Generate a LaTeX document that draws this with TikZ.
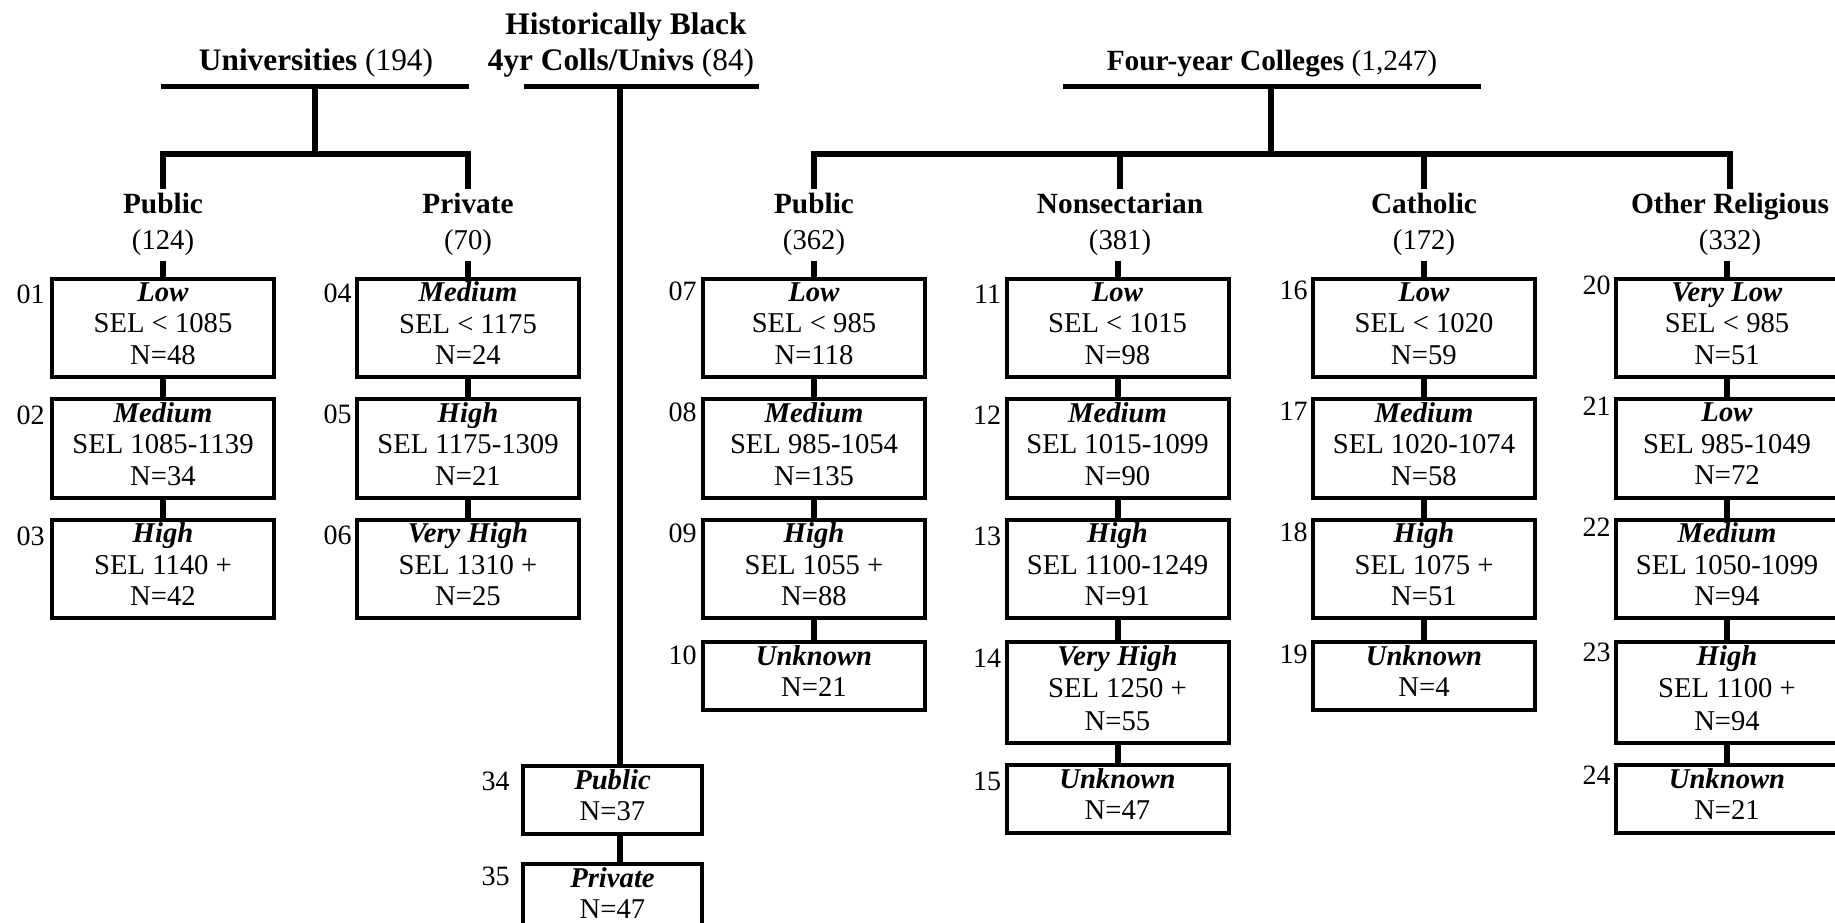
\documentclass[tikz,border=0pt]{standalone}
\usepackage{fontspec}
\setmainfont{Liberation Serif}

\newcommand{\seltxt}[3]{\textbf{\textit{#1}}\\#2\\#3\strut}
\newcommand{\unktxt}[2]{\textbf{\textit{#1}}\\#2\strut}

\tikzset{every picture/.style={line width=0.75pt}}
\tikzset{
  selbox/.style={draw, rectangle, line width=3pt, minimum width=166.5pt, minimum height=73.5pt,
    inner sep=0pt, align=center, anchor=north, font=\fontsize{21.5}{23.6}\selectfont},
  selboxtall/.style={selbox, minimum height=75.75pt, font=\fontsize{21.5}{24.4}\selectfont},
  unkbox/.style={selbox, minimum height=51pt},
  hbbox/.style={unkbox, minimum width=134.25pt},
  boxid/.style={anchor=base east, inner sep=0pt, font=\fontsize{21}{24}\selectfont},
  grouphd/.style={anchor=base, inner sep=3pt, font=\fontsize{22}{26}\selectfont\bfseries},
  groupn/.style={anchor=base, inner sep=3pt, font=\fontsize{21.5}{26}\selectfont},
  toptitle/.style={anchor=base, inner sep=0pt, font=\fontsize{23.5}{28}\selectfont},
  treeline/.style={line width=4.5pt},
  headbar/.style={line width=3.75pt},
}

\begin{document}
\begin{tikzpicture}[x=0.75pt,y=0.75pt,yscale=-1,xscale=1]
    %set diagram to 1835 x 923
    \useasboundingbox (0,0) rectangle (1835,923);
    \clip (0,0) rectangle (1835,923);

    % Titles
    \node [toptitle] (univ) at (316,71) {\textbf{Universities} (194)};
    \node [toptitle] (hbcuA) at (626,35) {\textbf{Historically Black}};
    \node [toptitle] (hbcuB) at (621,71) {\textbf{4yr Colls/Univs} (84)};
    \node [toptitle, font=\fontsize{22}{26}\selectfont] (four) at (1272,71) {\textbf{Four-year Colleges} (1,247)};

    % Bars and trunks
    \coordinate (univL) at (161,87);
    \coordinate (univR) at (469,87);
    \coordinate (hbcuL) at (524,87);
    \coordinate (hbcuR) at (759,87);
    \coordinate (fourL) at (1063,87);
    \coordinate (fourR) at (1481,87);
    \coordinate (univT) at (315,87);
    \coordinate (univJ) at (315,154);
    \coordinate (hbcuT) at (620,87);
    \coordinate (fourT) at (1271,87);
    \coordinate (fourJ) at (1271,154);

    % Group headings
    \node [grouphd] (uPub) at (163,214) {Public};
    \node [groupn] (uPubN) at (163,250) {(124)};
    \node [grouphd] (uPriv) at (468,214) {Private};
    \node [groupn] (uPrivN) at (468,250) {(70)};
    \node [grouphd] (fPub) at (814,214) {Public};
    \node [groupn] (fPubN) at (814,250) {(362)};
    \node [grouphd] (fNon) at (1120,214) {Nonsectarian};
    \node [groupn] (fNonN) at (1120,250) {(381)};
    \node [grouphd] (fCath) at (1424,214) {Catholic};
    \node [groupn] (fCathN) at (1424,250) {(172)};
    \node [grouphd] (fOther) at (1730,214) {Other Religious};
    \node [groupn] (fOtherN) at (1730,250) {(332)};

    % Universities, public
    \node [selbox] (b01) at (163,277) {\seltxt{Low}{SEL < 1085}{N=48}};
    \node [selbox] (b02) at (163,397.5) {\seltxt{Medium}{SEL 1085-1139}{N=34}};
    \node [selbox] (b03) at (163,518) {\seltxt{High}{SEL 1140 +}{N=42}};
    % Universities, private
    \node [selbox] (b04) at (468,277) {\seltxt{Medium}{SEL < 1175}{N=24}};
    \node [selbox] (b05) at (468,397.5) {\seltxt{High}{SEL 1175-1309}{N=21}};
    \node [selbox] (b06) at (468,518) {\seltxt{Very High}{SEL 1310 +}{N=25}};
    % Four-year, public
    \node [selbox] (b07) at (814,277) {\seltxt{Low}{SEL < 985}{N=118}};
    \node [selbox] (b08) at (814,397.5) {\seltxt{Medium}{SEL 985-1054}{N=135}};
    \node [selbox] (b09) at (814,518) {\seltxt{High}{SEL 1055 +}{N=88}};
    \node [unkbox] (b10) at (814,640) {\unktxt{Unknown}{N=21}};
    % Four-year, nonsectarian
    \node [selbox] (b11) at (1117.5,277) {\seltxt{Low}{SEL < 1015}{N=98}};
    \node [selbox] (b12) at (1117.5,397.5) {\seltxt{Medium}{SEL 1015-1099}{N=90}};
    \node [selbox] (b13) at (1117.5,518) {\seltxt{High}{SEL 1100-1249}{N=91}};
    \node [selboxtall] (b14) at (1117.5,640) {\seltxt{Very High}{SEL 1250 +}{N=55}};
    \node [unkbox] (b15) at (1117.5,763) {\unktxt{Unknown}{N=47}};
    % Four-year, catholic
    \node [selbox] (b16) at (1424,277) {\seltxt{Low}{SEL < 1020}{N=59}};
    \node [selbox] (b17) at (1424,397.5) {\seltxt{Medium}{SEL 1020-1074}{N=58}};
    \node [selbox] (b18) at (1424,518) {\seltxt{High}{SEL 1075 +}{N=51}};
    \node [unkbox] (b19) at (1424,640) {\unktxt{Unknown}{N=4}};
    % Four-year, other religious
    \node [selbox] (b20) at (1727,277) {\seltxt{Very Low}{SEL < 985}{N=51}};
    \node [selbox] (b21) at (1727,397.5) {\seltxt{Low}{SEL 985-1049}{N=72}};
    \node [selbox] (b22) at (1727,518) {\seltxt{Medium}{SEL 1050-1099}{N=94}};
    \node [selboxtall] (b23) at (1727,640) {\seltxt{High}{SEL 1100 +}{N=94}};
    \node [unkbox] (b24) at (1727,763) {\unktxt{Unknown}{N=21}};
    % Historically black
    \node [hbbox] (b34) at (612.5,764) {\unktxt{Public}{N=37}};
    \node [hbbox] (b35) at (612.5,862) {\unktxt{Private}{N=47}};

    % Box numbers
    \node [boxid] (l01) at ([shift={(-5,27)}]b01.north west) {01};
    \node [boxid] (l02) at ([shift={(-5,27)}]b02.north west) {02};
    \node [boxid] (l03) at ([shift={(-5,27)}]b03.north west) {03};
    \node [boxid] (l04) at ([shift={(-3,26)}]b04.north west) {04};
    \node [boxid] (l05) at ([shift={(-3,26)}]b05.north west) {05};
    \node [boxid] (l06) at ([shift={(-3,26)}]b06.north west) {06};
    \node [boxid] (l07) at ([shift={(-4,24)}]b07.north west) {07};
    \node [boxid] (l08) at ([shift={(-4,24)}]b08.north west) {08};
    \node [boxid] (l09) at ([shift={(-4,24)}]b09.north west) {09};
    \node [boxid] (l10) at ([shift={(-4,24)}]b10.north west) {10};
    \node [boxid] (l11) at ([shift={(-3,27)}]b11.north west) {11};
    \node [boxid] (l12) at ([shift={(-3,27)}]b12.north west) {12};
    \node [boxid] (l13) at ([shift={(-3,27)}]b13.north west) {13};
    \node [boxid] (l14) at ([shift={(-3,27)}]b14.north west) {14};
    \node [boxid] (l15) at ([shift={(-3,27)}]b15.north west) {15};
    \node [boxid] (l16) at ([shift={(-3,23)}]b16.north west) {16};
    \node [boxid] (l17) at ([shift={(-3,23)}]b17.north west) {17};
    \node [boxid] (l18) at ([shift={(-3,23)}]b18.north west) {18};
    \node [boxid] (l19) at ([shift={(-3,23)}]b19.north west) {19};
    \node [boxid] (l20) at ([shift={(-3,18)}]b20.north west) {20};
    \node [boxid] (l21) at ([shift={(-3,18)}]b21.north west) {21};
    \node [boxid] (l22) at ([shift={(-3,18)}]b22.north west) {22};
    \node [boxid] (l23) at ([shift={(-3,21)}]b23.north west) {23};
    \node [boxid] (l24) at ([shift={(-3,21)}]b24.north west) {24};
    \node [boxid] (l34) at ([shift={(-11,26)}]b34.north west) {34};
    \node [boxid] (l35) at ([shift={(-11,23)}]b35.north west) {35};

    %Straight Lines: bars under titles
    \draw [headbar] (univL) -- (univR);
    \draw [headbar] (hbcuL) -- (hbcuR);
    \draw [headbar] (fourL) -- (fourR);

    %Straight Lines: tree
    \draw [treeline] (univT) -- (univJ);
    \draw [treeline] (uPub.north) |- (univJ) -| (uPriv.north);
    \draw [treeline] (fourT) -- (fourJ);
    \draw [treeline] (fPub.north) |- (fourJ) -| (fOther.north);
    \draw [treeline] (fourJ -| fNon.north) -- (fNon.north);
    \draw [treeline] (fourJ -| fCath.north) -- (fCath.north);
    \draw [treeline] (hbcuT) -- (hbcuT |- b34.north);
    \draw [treeline] (b34.south -| hbcuT) -- (b35.north -| hbcuT);

    %Straight Lines: columns
    \draw [treeline] (b01.north |- uPubN.south) -- (b01.north);
    \draw [treeline] (b01.south) -- (b02.north);
    \draw [treeline] (b02.south) -- (b03.north);
    \draw [treeline] (b04.north |- uPrivN.south) -- (b04.north);
    \draw [treeline] (b04.south) -- (b05.north);
    \draw [treeline] (b05.south) -- (b06.north);
    \draw [treeline] (b07.north |- fPubN.south) -- (b07.north);
    \draw [treeline] (b07.south) -- (b08.north);
    \draw [treeline] (b08.south) -- (b09.north);
    \draw [treeline] (b09.south) -- (b10.north);
    \draw [treeline] (b11.north |- fNonN.south) -- (b11.north);
    \draw [treeline] (b11.south) -- (b12.north);
    \draw [treeline] (b12.south) -- (b13.north);
    \draw [treeline] (b13.south) -- (b14.north);
    \draw [treeline] (b14.south) -- (b15.north);
    \draw [treeline] (b16.north |- fCathN.south) -- (b16.north);
    \draw [treeline] (b16.south) -- (b17.north);
    \draw [treeline] (b17.south) -- (b18.north);
    \draw [treeline] (b18.south) -- (b19.north);
    \draw [treeline] (b20.north |- fOtherN.south) -- (b20.north);
    \draw [treeline] (b20.south) -- (b21.north);
    \draw [treeline] (b21.south) -- (b22.north);
    \draw [treeline] (b22.south) -- (b23.north);
    \draw [treeline] (b23.south) -- (b24.north);

\end{tikzpicture}
\end{document}
